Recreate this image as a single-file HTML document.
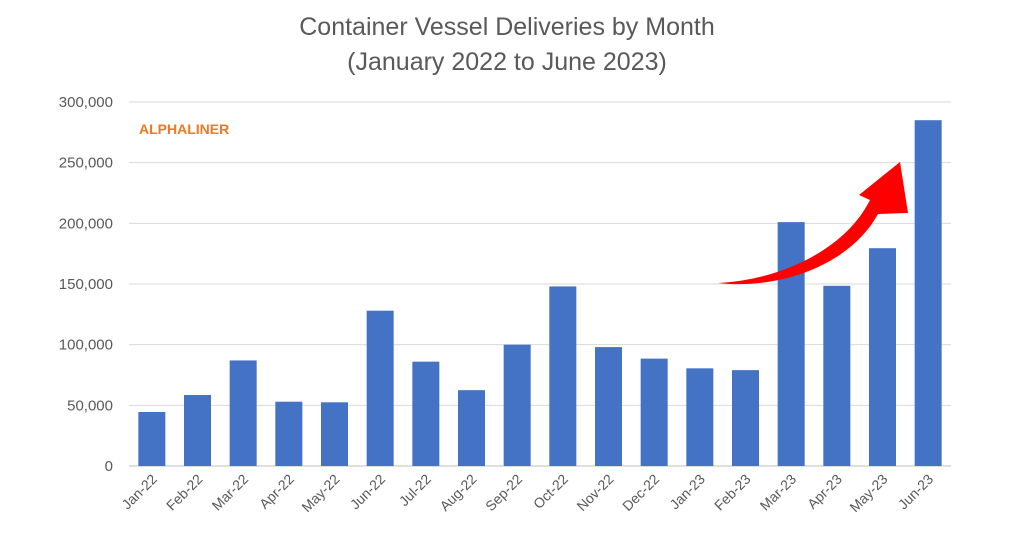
<!DOCTYPE html>
<html><head><meta charset="utf-8"><style>
body{margin:0;background:#fff;width:1024px;height:536px;overflow:hidden;font-family:"Liberation Sans",sans-serif}
</style></head><body>
<svg id="chart" width="1024" height="536" xmlns="http://www.w3.org/2000/svg">
<text x="507" y="35" text-anchor="middle" font-size="25" fill="#595959">Container Vessel Deliveries by Month</text>
<text x="507" y="70" text-anchor="middle" font-size="25" fill="#595959">(January 2022 to June 2023)</text>
<text x="139" y="134" font-size="14" font-weight="bold" fill="#f07820">ALPHALINER</text>
<g id="grid"></g><g id="bars"></g><g id="xl"></g>
<path fill="#f00" d="M718,283 C780,290 850,265 878,214 L908,213 L900,162 L859,195 L870,200 C845,250 780,280 718,283 Z"/>
</svg>
<script>
const categories=["Jan-22","Feb-22","Mar-22","Apr-22","May-22","Jun-22","Jul-22","Aug-22","Sep-22","Oct-22","Nov-22","Dec-22","Jan-23","Feb-23","Mar-23","Apr-23","May-23","Jun-23"];
const values=[44500,58500,87000,53000,52500,128000,86000,62500,100000,148000,98000,88500,80500,79000,201000,148500,179500,285000];
const ticks=[0,50000,100000,150000,200000,250000,300000];
const tickLabels=["0","50,000","100,000","150,000","200,000","250,000","300,000"];
const NS="http://www.w3.org/2000/svg";
const x0=129,x1=951,y0=466,y1=102,maxV=300000;
const y=v=>y0-(v/maxV)*(y0-y1);
const step=(x1-x0)/categories.length;
const xc=i=>x0+step*(i+0.5);
function mk(t,a,p){const e=document.createElementNS(NS,t);for(const k in a)e.setAttribute(k,a[k]);p.appendChild(e);return e;}
const g=document.getElementById('grid');
ticks.forEach((t,i)=>{
 const l=mk('line',{x1:x0,x2:x1,y1:y(t),y2:y(t),stroke:i==0?'#bfbfbf':'#d9d9d9','stroke-width':1},g);
 
 
 const tx=mk('text',{x:113,y:y(t)+5,'text-anchor':'end','font-size':15,fill:'#595959'},g);
 tx.textContent=tickLabels[i];
 
 
});
const b=document.getElementById('bars'),xl=document.getElementById('xl');
values.forEach((v,i)=>{
 const r=mk('rect',{x:xc(i)-13.5,y:y(v),width:27,height:y0-y(v),fill:'#4472c4'},b);
 
 
 const t=mk('text',{x:xc(i)+6,y:480,'text-anchor':'end','font-size':14,fill:'#595959',transform:`rotate(-45 ${xc(i)+6} 480)`},xl);
 t.textContent=categories[i];
 
 
});
</script>
</body></html>
